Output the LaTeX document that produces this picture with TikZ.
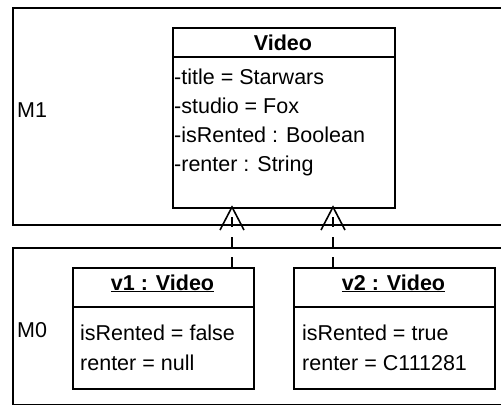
\documentclass[tikz,border=0pt]{standalone}
\usepackage{fontspec}
\setmainfont{Liberation Sans}
\begin{document}
\begin{tikzpicture}[x=1pt,y=-1pt,
  box/.style={draw=black,line width=1.6pt,inner sep=0pt,anchor=north west},
  txt/.style={anchor=base west,inner sep=0pt,font=\fontsize{21.5}{26}\selectfont,text=black},
  hd/.style={anchor=base,inner sep=0pt,font=\fontsize{21.5}{26}\selectfont\bfseries,text=black},
  dep/.style={line width=1.6pt,dash pattern=on 10pt off 10pt},
  ln/.style={line width=1.6pt}]
\useasboundingbox (0,0) rectangle (501,405);
\clip (0,0) rectangle (501,405);
\fill[white] (0,0) rectangle (501,405);
% frames
\node[box,minimum width=520pt,minimum height=217pt] (m1) at (12,7) {};
\node[box,minimum width=520pt,minimum height=156.5pt] (m0) at (12,247) {};
\node[txt] (m1l) at (17,117) {M1};
\node[txt] (m0l) at (17,337) {M0};
% class Video
\node[box,minimum width=222pt,minimum height=180pt] (video) at (172,27) {};
\draw[ln] ([yshift=-30pt]video.north west) -- ([yshift=-30pt]video.north east);
\node[hd] (vh) at (283,50) {Video};
\node[txt] (a1) at (174,84) {-title = Starwars};
\node[txt] (a2) at (174,113) {-studio = Fox};
\node[txt] (a3) at (174,142) {-isRented : Boolean};
\node[txt] (a4) at (174,171) {-renter : String};
% object v1
\node[box,minimum width=181pt,minimum height=121pt] (v1) at (72,267) {};
\draw[ln] ([yshift=-40pt]v1.north west) -- ([yshift=-40pt]v1.north east);
\node[hd] (v1h) at (162.5,290) {\underline{v1 : Video}};
\node[txt] (v1a) at (80,340) {isRented = false};
\node[txt] (v1b) at (80,370) {renter = null};
% object v2
\node[box,minimum width=201pt,minimum height=121pt] (v2) at (293,267) {};
\draw[ln] ([yshift=-40pt]v2.north west) -- ([yshift=-40pt]v2.north east);
\node[hd] (v2h) at (393.5,290) {\underline{v2 : Video}};
\node[txt] (v2a) at (302,340) {isRented = true};
\node[txt] (v2b) at (302,370) {renter = C111281};
% instance-of dependencies
\coordinate (t1) at (232,207);
\coordinate (t2) at (333,207);
\draw[dep] (t1 |- v1.north) -- (t1);
\draw[dep] (t2 |- v2.north) -- (t2);
\draw[ln] ([shift={(-12,23)}]t1) -- (t1) -- ([shift={(12,23)}]t1);
\draw[ln] ([shift={(-12,23)}]t2) -- (t2) -- ([shift={(12,23)}]t2);
\end{tikzpicture}
\end{document}
